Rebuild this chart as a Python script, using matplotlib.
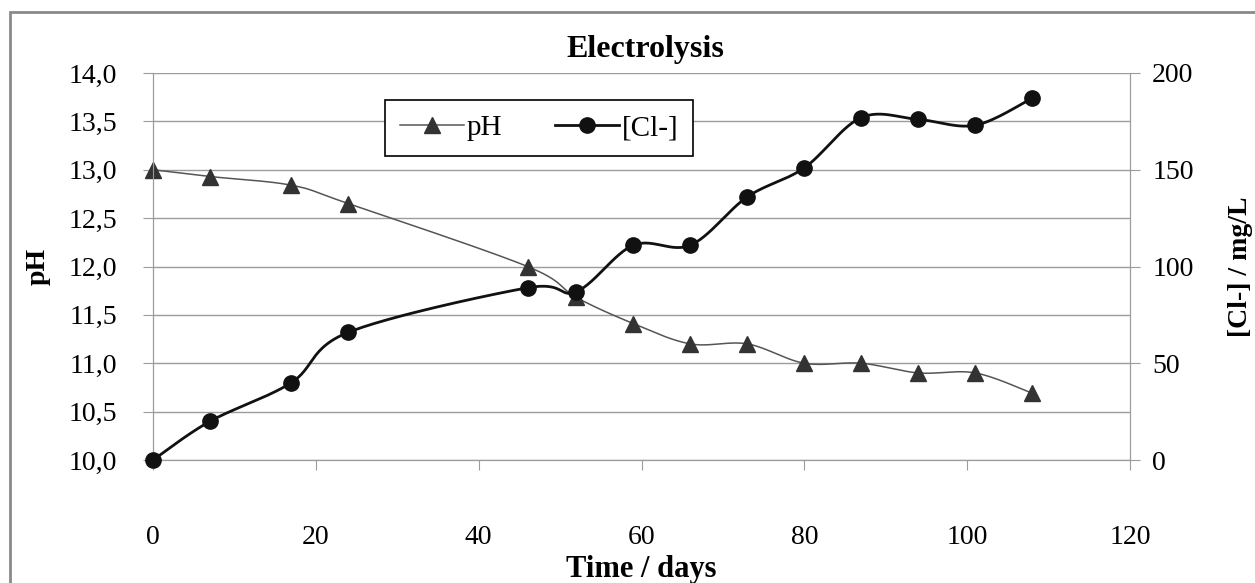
import numpy as np
import matplotlib
matplotlib.use("Agg")
import matplotlib.pyplot as plt
from matplotlib.lines import Line2D
from matplotlib.patches import Rectangle

plt.rcParams['font.family'] = ['Liberation Serif', 'DejaVu Serif']

# data
days = [0, 7, 17, 24, 46, 52, 59, 66, 73, 80, 87, 94, 101, 108]
ph = [13.0, 12.93, 12.84, 12.65, 12.0, 11.68, 11.41, 11.2, 11.2, 11.0, 11.0, 10.9, 10.9, 10.69]
chloride = [0, 20, 40, 66, 89, 87, 111, 111, 136, 151, 177, 176, 173, 187]

x_ticks = [0, 20, 40, 60, 80, 100, 120]
ph_ticks = [10.0, 10.5, 11.0, 11.5, 12.0, 12.5, 13.0, 13.5, 14.0]
cl_ticks = [0, 50, 100, 150, 200]

GRID = '#9c9c9c'


def smooth(x, y, n=30):
    # excel style smoothed line (catmull-rom through the points)
    x = np.asarray(x, float)
    y = np.asarray(y, float)
    px = np.concatenate([[x[0]], x, [x[-1]]])
    py = np.concatenate([[y[0]], y, [y[-1]]])
    xs, ys = [], []
    t = np.linspace(0, 1, n)
    for i in range(1, len(px) - 2):
        b0x, b0y = px[i], py[i]
        b3x, b3y = px[i + 1], py[i + 1]
        b1x = b0x + (px[i + 1] - px[i - 1]) / 6
        b1y = b0y + (py[i + 1] - py[i - 1]) / 6
        b2x = b3x - (px[i + 2] - px[i]) / 6
        b2y = b3y - (py[i + 2] - py[i]) / 6
        xs.append((1 - t) ** 3 * b0x + 3 * (1 - t) ** 2 * t * b1x + 3 * (1 - t) * t ** 2 * b2x + t ** 3 * b3x)
        ys.append((1 - t) ** 3 * b0y + 3 * (1 - t) ** 2 * t * b1y + 3 * (1 - t) * t ** 2 * b2y + t ** 3 * b3y)
    return np.concatenate(xs), np.concatenate(ys)


fig = plt.figure(figsize=(12.55, 5.83), dpi=100)
fig.patches.append(Rectangle((10 / 1255, -0.2), 1.2, 1.2 - 12 / 583, transform=fig.transFigure,
                             fill=False, edgecolor='#8a8a8a', lw=2, zorder=0))
ax = fig.add_axes([153 / 1255, 1 - 460 / 583, 977 / 1255, 387 / 583])
ax2 = ax.twinx()

sx, sy = smooth(days, ph)
ax.plot(sx, sy, color='#555555', lw=1.1, zorder=3)
ax.plot(days, ph, ls='none', marker='^', ms=12, color='#333333', zorder=4, clip_on=False)

cx, cy = smooth(days, chloride)
ax2.plot(cx, cy, color='#111111', lw=2, zorder=3)
ax2.plot(days, chloride, ls='none', marker='o', ms=11, color='#111111', zorder=4, clip_on=False)

ax.set_xlim(0, 120)
ax.set_ylim(10, 14)
ax2.set_ylim(0, 200)

ax.set_xticks(x_ticks)
ax.set_yticks(ph_ticks)
ax.set_yticklabels([('%.1f' % v).replace('.', ',') for v in ph_ticks])
ax2.set_yticks(cl_ticks)
ax2.set_yticklabels([str(v) for v in cl_ticks])

ax.grid(axis='y', color=GRID, lw=1)
ax.set_axisbelow(True)
for a in (ax, ax2):
    a.spines['top'].set_visible(False)
    for s in ('left', 'right', 'bottom'):
        a.spines[s].set_color(GRID)
ax.tick_params(axis='x', direction='out', length=7, color=GRID, labelsize=20, pad=40)
ax.tick_params(axis='y', direction='out', length=7, color=GRID, labelsize=20, pad=19)
ax2.tick_params(axis='y', direction='out', length=7, color=GRID, labelsize=20, pad=9)

fig.text(645 / 1255, 1 - 50 / 583, 'Electrolysis', fontsize=23, fontweight='bold', ha='center', va='center')
ax.set_xlabel('Time / days', fontsize=22, fontweight='bold')
ax.xaxis.set_label_coords(0.5, -0.245)
ax.set_ylabel('pH', fontsize=20, fontweight='bold')
ax.yaxis.set_label_coords(-0.105, 0.5)
ax2.set_ylabel('[Cl-] / mg/L', fontsize=20, fontweight='bold')
ax2.yaxis.set_label_coords(1.100, 0.5)

handles = [Line2D([], [], color='#555555', lw=1.1, marker='^', ms=12, markerfacecolor='#333333', markeredgecolor='#333333'),
           Line2D([], [], color='#111111', lw=2, marker='o', ms=11)]
leg = ax2.legend(handles, ['pH', '[Cl-]'], ncol=2, loc='center', bbox_to_anchor=(539 / 1255, 1 - 128 / 583),
                 bbox_transform=fig.transFigure, fontsize=21, frameon=True, fancybox=False,
                 edgecolor='black', framealpha=1, handlelength=2.2, handletextpad=0.1, columnspacing=1.8,
                 borderpad=0.5, borderaxespad=0)
leg.get_frame().set_linewidth(1.2)

fig.savefig('out.png', dpi=100)
